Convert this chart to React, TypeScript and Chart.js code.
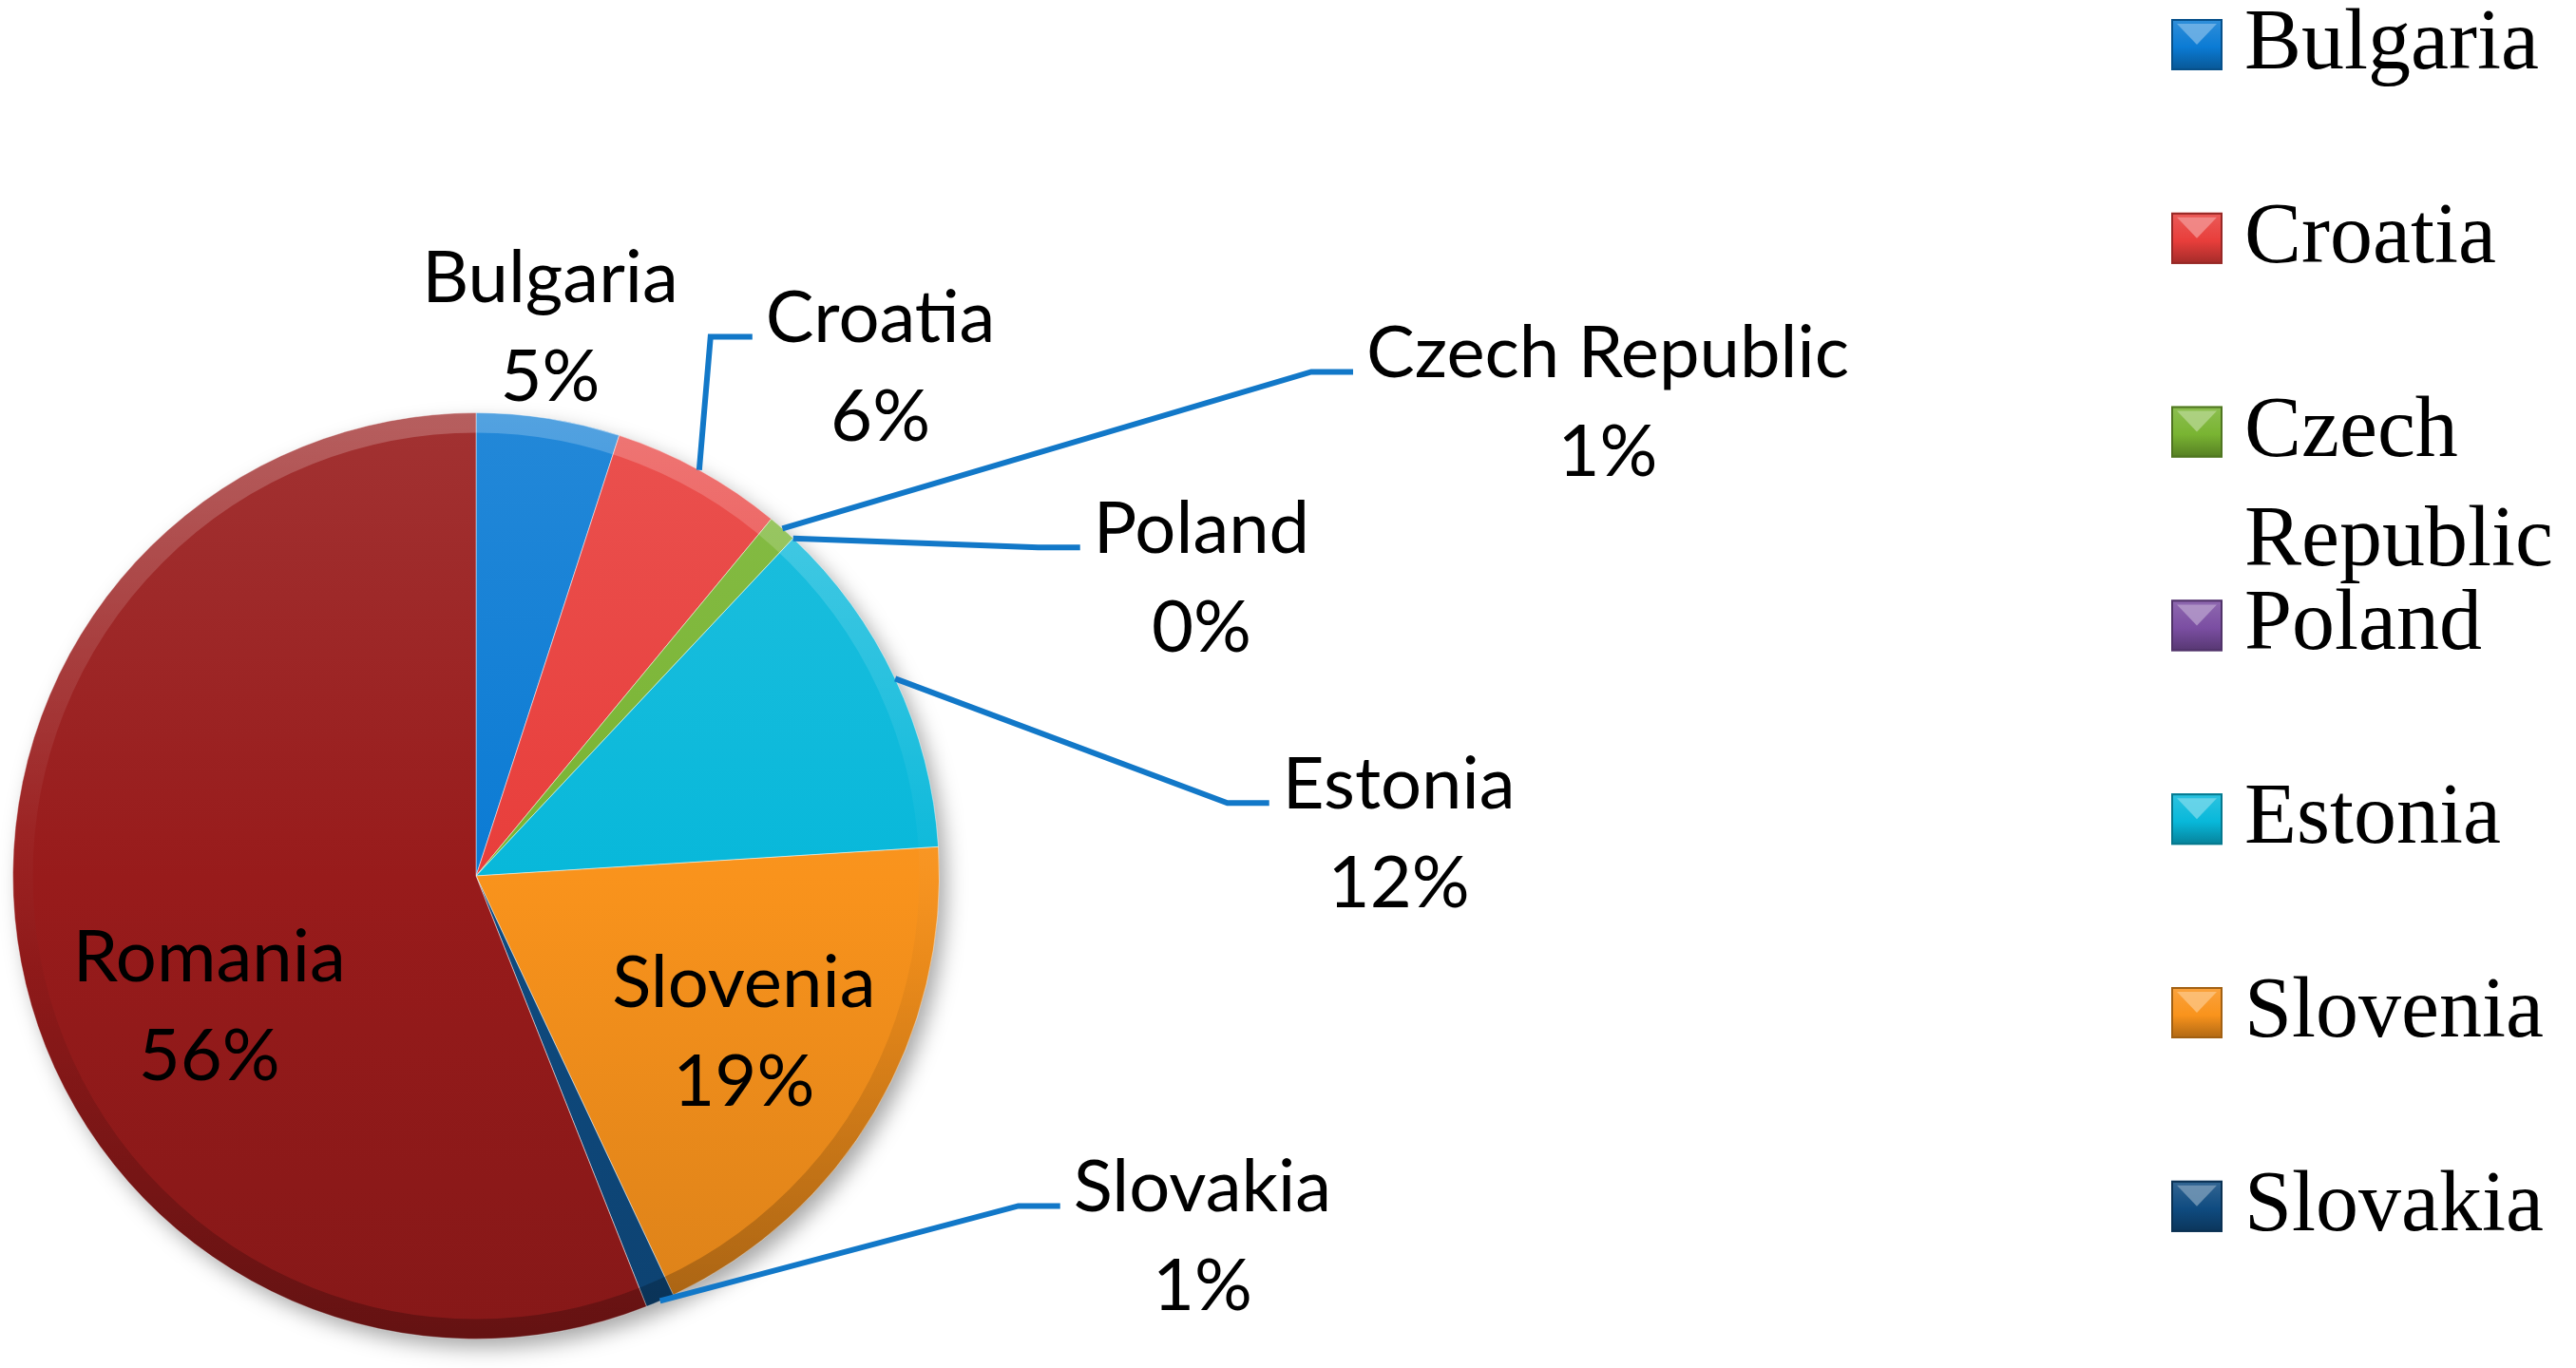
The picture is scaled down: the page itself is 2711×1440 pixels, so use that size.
import React, { useEffect, useRef } from 'react';
import { Chart, registerables } from 'chart.js';

Chart.register(...registerables);

// ---- data ----
const countries = ['Bulgaria', 'Croatia', 'Czech Republic', 'Poland', 'Estonia', 'Slovenia', 'Slovakia', 'Romania'];
const shares = [5, 6, 1, 0, 12, 19, 1, 56];

// ---- styles ----
const sliceColors = ['#0b7bd4', '#e83e3b', '#79b432', '#7b4ea2', '#08b8da', '#f9931c', '#0f4b80', '#981b1b'];
const leaderColor = '#1278c8';

// label anchor (centre x, first baseline y) relative to pie centre, in units of the radius
const labelAnchorX = [0.16, 0.873, 2.443, 1.566, 1.992, 0.578, 1.568, -0.576];
const labelAnchorY = [-1.238, -1.152, -1.076, -0.697, -0.145, 0.284, 0.725, 0.227];
const labelHasLeader = [false, true, true, true, true, false, true, false];

const W = 2711;
const H = 1440;

function hexToRgb(hex: string): [number, number, number] {
  const h = hex.replace('#', '');
  return [parseInt(h.slice(0, 2), 16), parseInt(h.slice(2, 4), 16), parseInt(h.slice(4, 6), 16)];
}
function mix(hex: string, target: number, amt: number, alpha = 1): string {
  const [r, g, b] = hexToRgb(hex);
  const f = (c: number) => Math.round(c + (target - c) * amt);
  return `rgba(${f(r)},${f(g)},${f(b)},${alpha})`;
}

const shadowPlugin = {
  id: 'pieShadow',
  beforeDatasetsDraw(chart: any) {
    const meta = chart.getDatasetMeta(0);
    const arc = meta.data[0];
    if (!arc) return;
    const { x, y, outerRadius } = arc.getProps(['x', 'y', 'outerRadius'], true);
    const ctx = chart.ctx;
    ctx.save();
    ctx.shadowColor = 'rgba(0,0,0,0.35)';
    ctx.shadowBlur = 22;
    ctx.shadowOffsetX = 8;
    ctx.shadowOffsetY = 10;
    ctx.fillStyle = '#ffffff';
    ctx.beginPath();
    ctx.arc(x, y, outerRadius - 1, 0, Math.PI * 2);
    ctx.fill();
    ctx.restore();
  },
  afterDatasetsDraw(chart: any) {
    const meta = chart.getDatasetMeta(0);
    const arc = meta.data[0];
    if (!arc) return;
    const { x, y, outerRadius } = arc.getProps(['x', 'y', 'outerRadius'], true);
    const ctx = chart.ctx;
    // bevel ring: light on top, darker at bottom
    ctx.save();
    ctx.beginPath();
    ctx.arc(x, y, outerRadius, 0, Math.PI * 2);
    ctx.clip();
    const g = ctx.createLinearGradient(0, y - outerRadius, 0, y + outerRadius);
    g.addColorStop(0, 'rgba(255,255,255,0.22)');
    g.addColorStop(0.45, 'rgba(255,255,255,0.03)');
    g.addColorStop(0.6, 'rgba(0,0,0,0.04)');
    g.addColorStop(1, 'rgba(0,0,0,0.25)');
    ctx.strokeStyle = g;
    ctx.lineWidth = 34;
    ctx.beginPath();
    ctx.arc(x, y, outerRadius - 4, 0, Math.PI * 2);
    ctx.stroke();
    ctx.restore();
  },
};

const labelPlugin = {
  id: 'sliceLabels',
  afterDatasetsDraw(chart: any) {
    const meta = chart.getDatasetMeta(0);
    const data: number[] = chart.data.datasets[0].data;
    const labels: string[] = chart.data.labels;
    const total = data.reduce((a, b) => a + b, 0);
    const ctx = chart.ctx;
    ctx.save();
    ctx.font = '76px Lato';
    ctx.fillStyle = '#000';
    ctx.textAlign = 'center';
    ctx.textBaseline = 'alphabetic';
    const lineGap = 104;
    meta.data.forEach((arc: any, i: number) => {
      const { x, y, startAngle, endAngle, outerRadius } = arc.getProps(
        ['x', 'y', 'startAngle', 'endAngle', 'outerRadius'],
        true
      );
      const cx = x + labelAnchorX[i] * outerRadius;
      const by = y + labelAnchorY[i] * outerRadius;
      const name = labels[i];
      const pct = Math.round((data[i] / total) * 100) + '%';
      if (labelHasLeader[i]) {
        const mid = (startAngle + endAngle) / 2;
        const sx = x + Math.cos(mid) * outerRadius;
        const sy = y + Math.sin(mid) * outerRadius;
        const tw = ctx.measureText(name).width;
        const ex = cx - tw / 2 - 14;
        const ey = by - 6;
        ctx.save();
        ctx.strokeStyle = leaderColor;
        ctx.lineWidth = 6;
        ctx.lineJoin = 'miter';
        ctx.beginPath();
        ctx.moveTo(sx, sy);
        ctx.lineTo(ex - 44, ey);
        ctx.lineTo(ex, ey);
        ctx.stroke();
        ctx.restore();
      }
      ctx.fillText(name, cx, by);
      ctx.fillText(pct, cx, by + lineGap);
    });
    ctx.restore();
  },
};

// legend layout
const legendMarkerX = 2285;
const legendMarkerSize = 54;
const legendTextX = 2362;
const legendFirstCenterY = 47;
const legendStep = 203.8;
const legendLineHeight = 115;

const legendPlugin = {
  id: 'sideLegend',
  afterDraw(chart: any) {
    const ctx = chart.ctx;
    const labels: string[] = chart.data.labels;
    const colors: string[] = sliceColors;
    ctx.save();
    ctx.font = '90px "Liberation Serif"';
    ctx.textAlign = 'left';
    ctx.textBaseline = 'alphabetic';
    const maxW = W - legendTextX - 4;
    labels.forEach((lab, i) => {
      const cy = legendFirstCenterY + i * legendStep;
      // items that do not fit in the canvas are dropped
      if (cy + 50 > H) return;
      const mx = legendMarkerX;
      const my = cy - legendMarkerSize / 2;
      const s = legendMarkerSize;
      const c = colors[i];
      const g = ctx.createLinearGradient(0, my, 0, my + s);
      g.addColorStop(0, mix(c, 255, 0.15));
      g.addColorStop(0.55, c);
      g.addColorStop(1, mix(c, 0, 0.3));
      ctx.fillStyle = g;
      ctx.fillRect(mx, my, s, s);
      ctx.fillStyle = mix(c, 255, 0.45, 0.8);
      ctx.beginPath();
      ctx.moveTo(mx + 6, my + 5);
      ctx.lineTo(mx + s - 6, my + 5);
      ctx.lineTo(mx + s / 2, my + s / 2);
      ctx.closePath();
      ctx.fill();
      ctx.strokeStyle = mix(c, 0, 0.35);
      ctx.lineWidth = 2;
      ctx.strokeRect(mx + 1, my + 1, s - 2, s - 2);
      ctx.fillStyle = '#000';
      const words = lab.split(' ');
      const lines: string[] = [];
      let cur = '';
      words.forEach((w) => {
        const t = cur ? cur + ' ' + w : w;
        if (cur && ctx.measureText(t).width > maxW) {
          lines.push(cur);
          cur = w;
        } else cur = t;
      });
      if (cur) lines.push(cur);
      lines.forEach((ln, k) => {
        ctx.fillText(ln, legendTextX, cy + 25 + k * legendLineHeight);
      });
    });
    ctx.restore();
  },
};

export default function App() {
  const ref = useRef<HTMLCanvasElement | null>(null);
  useEffect(() => {
    if (!ref.current) return;
    const chart = new Chart(ref.current, {
      type: 'pie',
      data: {
        labels: countries,
        datasets: [
          {
            data: shares,
            backgroundColor: (c: any) => {
              const base = sliceColors[c.dataIndex % sliceColors.length];
              const area = c.chart.chartArea;
              if (!area) return base;
              const g = c.chart.ctx.createLinearGradient(0, area.top, 0, area.bottom);
              g.addColorStop(0, mix(base, 255, 0.1));
              g.addColorStop(0.5, base);
              g.addColorStop(1, mix(base, 0, 0.12));
              return g;
            },
            borderColor: 'rgba(255,255,255,0.45)',
            borderWidth: (c: any) => (shares[c.dataIndex] === 0 ? 0 : 1),
          },
        ],
      },
      options: {
        responsive: false,
        animation: false,
        layout: { padding: { left: 13, right: 1722, top: 434, bottom: 30 } },
        plugins: {
          legend: { display: false },
          tooltip: { enabled: false },
        },
      },
      plugins: [shadowPlugin, labelPlugin, legendPlugin],
    });
    return () => chart.destroy();
  }, []);
  return (
    <div style={{ position: 'absolute', left: 0, top: 0, width: W, height: H, background: '#fff' }}>
      <canvas ref={ref} width={W} height={H} style={{ width: W, height: H, display: 'block' }} />
    </div>
  );
}
